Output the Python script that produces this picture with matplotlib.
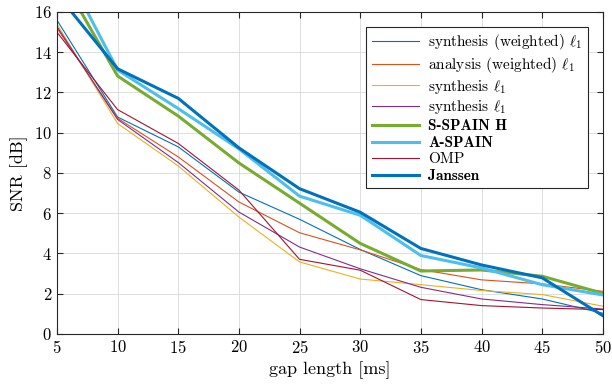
import matplotlib
matplotlib.use("Agg")
import matplotlib.pyplot as plt

plt.rcParams["font.family"] = "serif"
plt.rcParams["font.serif"] = ["cmr10"]
plt.rcParams["mathtext.fontset"] = "cm"
plt.rcParams["axes.formatter.use_mathtext"] = True

gap_ms = [5, 10, 15, 20, 25, 30, 35, 40, 45, 50]

syn_w = [15.6, 10.78, 9.3, 7.05, 5.7, 4.2, 2.9, 2.2, 1.74, 1.03]
ana_w = [15.2, 10.72, 8.8, 6.56, 5.03, 4.18, 3.2, 2.69, 2.49, 2.12]
syn_l1 = [15.4, 10.46, 8.35, 5.81, 3.58, 2.73, 2.45, 2.16, 1.96, 1.38]
syn_l1b = [15.28, 10.66, 8.52, 6.06, 4.32, 3.24, 2.32, 1.74, 1.46, 1.24]
sspain_h = [18.1, 12.82, 10.83, 8.5, 6.5, 4.5, 3.13, 3.18, 2.87, 2.02]
aspain = [18.9, 13.12, 11.2, 9.2, 6.85, 5.9, 3.9, 3.28, 2.45, 1.94]
omp = [15.0, 11.15, 9.47, 7.15, 3.71, 3.17, 1.71, 1.41, 1.29, 1.21]
janssen = [16.9, 13.18, 11.71, 9.25, 7.22, 6.05, 4.25, 3.43, 2.79, 0.91]

series = [
    (syn_w, r"synthesis (weighted) $\ell_1$", "#0072BD", 0.8, False),
    (ana_w, r"analysis (weighted) $\ell_1$", "#D95319", 0.8, False),
    (syn_l1, r"synthesis $\ell_1$", "#EDB120", 0.8, False),
    (syn_l1b, r"synthesis $\ell_1$", "#7E2F8E", 0.8, False),
    (sspain_h, "S-SPAIN H", "#77AC30", 2.2, True),
    (aspain, "A-SPAIN", "#4DBEEE", 2.2, True),
    (omp, "OMP", "#A2142F", 0.8, False),
    (janssen, "Janssen", "#0072BD", 2.2, True),
]

fig = plt.figure(figsize=(6.12, 3.87), dpi=100)
ax = fig.add_axes([0.093, 0.137, 0.892, 0.832])

for vals, label, color, lw, bold in series:
    ax.plot(gap_ms, vals, color=color, lw=lw, label=label)

ax.set_xlim(5, 50)
ax.set_ylim(0, 16)
ax.set_xticks(gap_ms)
ax.set_yticks(range(0, 17, 2))
ax.grid(True, color="#d9d9d9", lw=0.6)
ax.set_axisbelow(True)
ax.tick_params(direction="in", top=True, right=True, labelsize=12,
               color="#262626", length=4)
for s in ax.spines.values():
    s.set_color("#262626")
    s.set_linewidth(0.8)
ax.set_xlabel("gap length [ms]", fontsize=13)
ax.set_ylabel("SNR [dB]", fontsize=13)

leg = ax.legend(loc="upper right", bbox_to_anchor=(0.9725, 0.954), fontsize=11,
                handlelength=3.1, handletextpad=0.6, labelspacing=0.18,
                borderpad=0.35, borderaxespad=0,
                fancybox=False, framealpha=1, edgecolor="#262626")
leg.get_frame().set_linewidth(0.8)
for txt, (vals, label, color, lw, bold) in zip(leg.get_texts(), series):
    if bold:
        txt.set_fontfamily("cmb10")

fig.savefig("out.png", dpi=100)
